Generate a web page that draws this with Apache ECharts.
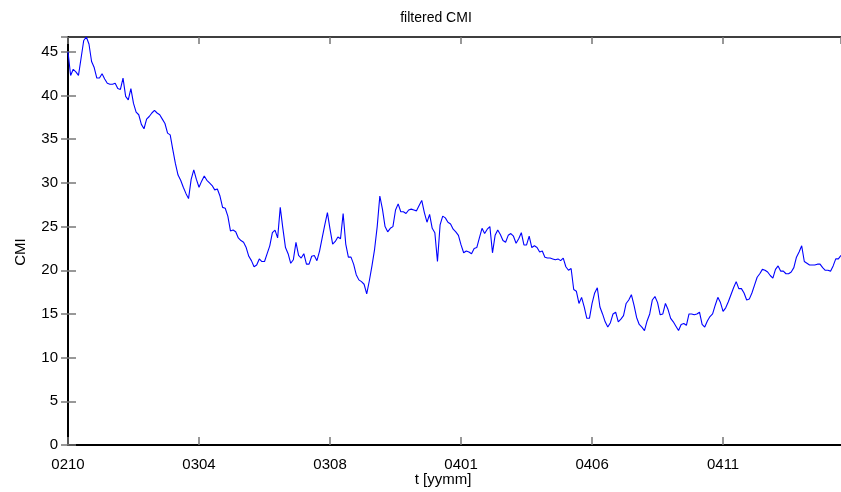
<!DOCTYPE html>
<html>
<head>
<meta charset="utf-8">
<script src="https://cdn.jsdelivr.net/npm/echarts@6/dist/echarts.min.js"></script>
<style>
  html, body { margin: 0; padding: 0; background: #fff; }
  #chart { width: 841px; height: 492px; }
</style>
</head>
<body>
<div id="chart"></div>
<script>
// Filtered CMI series, one value every second sample index
const sampleStep = 2;
const cmiValues = [
  45.0, 42.3, 43.0, 42.7, 42.3, 44.3, 46.3, 46.7, 45.9, 43.9,
  43.2, 42.0, 42.0, 42.5, 41.9, 41.4, 41.3, 41.3, 41.4, 40.8,
  40.7, 42.0, 39.9, 39.5, 40.8, 39.1, 38.1, 37.8, 36.7, 36.2,
  37.3, 37.6, 38.0, 38.3, 38.0, 37.8, 37.3, 36.8, 35.7, 35.5,
  33.8, 32.2, 30.9, 30.3, 29.5, 28.8, 28.2, 30.4, 31.5, 30.4,
  29.5, 30.2, 30.8, 30.3, 30.0, 29.7, 29.2, 29.3, 28.5, 27.2,
  27.1, 26.2, 24.5, 24.6, 24.4, 23.7, 23.4, 23.2, 22.6, 21.6,
  21.1, 20.4, 20.6, 21.3, 21.0, 21.0, 21.9, 22.8, 24.3, 24.6,
  23.7, 27.2, 24.8, 22.6, 21.9, 20.8, 21.2, 23.2, 21.7, 21.4,
  21.9, 20.7, 20.7, 21.6, 21.7, 21.1, 22.2, 23.7, 25.2, 26.6,
  24.7, 23.0, 23.3, 23.8, 23.6, 26.5, 23.0, 21.5, 21.5, 20.7,
  19.5, 18.9, 18.7, 18.4, 17.3, 18.8, 20.5, 22.4, 25.0, 28.5,
  27.0, 25.0, 24.4, 24.8, 25.0, 26.9, 27.6, 26.7, 26.7, 26.5,
  26.9, 27.0, 26.9, 26.8, 27.4, 28.0, 26.6, 25.5, 26.4, 24.8,
  24.3, 21.0, 25.2, 26.2, 26.0, 25.5, 25.3, 24.7, 24.4, 24.0,
  22.9, 22.0, 22.2, 22.1, 21.9, 22.5, 22.6, 23.7, 24.8, 24.2,
  24.7, 25.0, 22.0, 24.0, 24.6, 24.1, 23.4, 23.2, 24.0, 24.2,
  23.9, 23.1, 23.6, 24.3, 22.9, 22.9, 23.9, 22.6, 22.8, 22.6,
  22.1, 22.2, 21.5, 21.4, 21.4, 21.3, 21.2, 21.3, 21.1, 21.4,
  20.4, 20.0, 20.2, 17.8, 17.6, 16.2, 16.9, 15.8, 14.5, 14.5,
  16.2, 17.4, 18.0, 15.8, 15.0, 14.1, 13.5, 14.0, 15.0, 15.2,
  14.1, 14.4, 14.8, 16.2, 16.6, 17.2, 16.0, 14.6, 13.8, 13.5,
  13.1, 14.2, 15.0, 16.6, 17.0, 16.3, 14.9, 15.0, 16.2, 15.5,
  14.5, 14.1, 13.6, 13.1, 13.8, 13.9, 13.7, 15.0, 15.0, 14.9,
  15.0, 15.2, 13.8, 13.5, 14.2, 14.7, 15.0, 16.0, 16.9, 16.3,
  15.3, 15.7, 16.4, 17.2, 18.0, 18.7, 17.9, 17.9, 17.4, 16.6,
  16.7, 17.4, 18.3, 19.2, 19.6, 20.1, 20.0, 19.8, 19.4, 19.1,
  20.1, 20.5, 19.9, 19.9, 19.6, 19.6, 19.8, 20.3, 21.5, 22.1,
  22.8, 21.0, 20.8, 20.6, 20.6, 20.6, 20.7, 20.7, 20.3, 20.0,
  20.0, 19.9, 20.5, 21.3, 21.3, 21.7
];

// Time axis: one labelled tick every 100 samples
const tickEvery = 100;
const tickLabels = ['0210', '0304', '0308', '0401', '0406', '0411'];
const sampleMax = 590;

// Vertical range of the plot
const yMin = 0;
const yMax = 46.7;
const yStep = 5;

const seriesData = cmiValues.map((v, i) => [i * sampleStep, v]);

const FONT = '"Liberation Sans", Arial, Helvetica, sans-serif';
const tickGrey = '#777777';

const chart = echarts.init(document.getElementById('chart'), null, { renderer: 'canvas' });

const xLabel = (v) => {
  if (v % tickEvery !== 0) return '';
  const k = v / tickEvery;
  return tickLabels[k] !== undefined ? tickLabels[k] : '';
};
const yLabel = (v) => (v % yStep === 0 ? String(v) : '');

chart.setOption({
  animation: false,
  backgroundColor: '#ffffff',
  title: {
    text: 'filtered CMI',
    left: 431,
    top: 6,
    textAlign: 'center',
    textStyle: { fontFamily: FONT, fontSize: 14, fontWeight: 'normal', color: '#000' }
  },
  grid: { left: 68, right: 0, top: 37, bottom: 47, containLabel: false },
  xAxis: [
    {
      type: 'value', position: 'bottom', min: 0, max: sampleMax, interval: tickEvery,
      axisLine: { show: true, onZero: false, lineStyle: { color: '#000', width: 2 } },
      axisTick: { show: true, inside: true, length: 8, lineStyle: { color: tickGrey, width: 1.5 } },
      axisLabel: { formatter: xLabel, showMaxLabel: false, margin: 12,
        fontFamily: FONT, fontSize: 15, color: '#000' },
      splitLine: { show: false }
    },
    {
      type: 'value', position: 'top', min: 0, max: sampleMax, interval: tickEvery,
      axisLine: { show: true, onZero: false, lineStyle: { color: '#000', width: 1.5 } },
      axisTick: { show: true, inside: true, length: 7, lineStyle: { color: tickGrey, width: 1.5 } },
      axisLabel: { show: false },
      splitLine: { show: false }
    }
  ],
  yAxis: [
    {
      type: 'value', position: 'left', min: yMin, max: yMax, interval: yStep,
      axisLine: { show: true, onZero: false, lineStyle: { color: '#000', width: 2 } },
      axisTick: { show: true, inside: true, length: 8, lineStyle: { color: tickGrey, width: 1.5 } },
      axisLabel: { formatter: yLabel, showMaxLabel: false, margin: 10,
        fontFamily: FONT, fontSize: 15, color: '#000' },
      splitLine: { show: false }
    },
    {
      type: 'value', position: 'right', min: yMin, max: yMax, interval: yStep,
      axisLine: { show: false },
      axisTick: { show: true, inside: true, length: 7, lineStyle: { color: tickGrey, width: 1.5 } },
      axisLabel: { show: false },
      splitLine: { show: false }
    }
  ],
  graphic: [
    {
      // vertical axis title, reading bottom to top
      type: 'text', x: 21, y: 252, rotation: Math.PI / 2,
      style: { text: 'CMI', font: '15px ' + FONT, fill: '#000', align: 'center', verticalAlign: 'middle' }
    },
    {
      type: 'text', x: 443, y: 480,
      style: { text: 't [yymm]', font: '15px ' + FONT, fill: '#000', align: 'center', verticalAlign: 'middle' }
    }
  ],
  series: [
    {
      type: 'line',
      xAxisIndex: 0,
      yAxisIndex: 0,
      data: seriesData,
      showSymbol: false,
      symbol: 'none',
      lineStyle: { color: '#0000ff', width: 1.1 },
      z: 1
    }
  ]
});
</script>
</body>
</html>
